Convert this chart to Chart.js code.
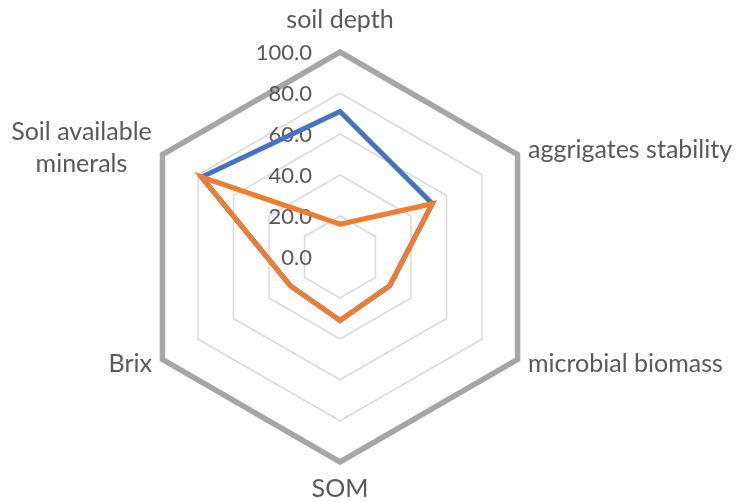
<!DOCTYPE html>
<html>
<head>
<meta charset="utf-8">
<script src="https://cdn.jsdelivr.net/npm/chart.js@4/dist/chart.umd.min.js"></script>
<style>
  html, body { margin: 0; padding: 0; background: #fff; }
  #wrap { width: 735px; height: 502px; }
</style>
</head>
<body>
<div id="wrap"><canvas id="radarChart"></canvas></div>
<script>
const categories = ['soil depth', 'aggrigates stability', 'microbial biomass', 'SOM', 'Brix', ['Soil available', 'minerals']];
const seriesBlue = [71, 52, 28, 31, 28, 78];
const seriesOrange = [16, 52, 28, 31, 28, 78];
const tickValues = [0, 20, 40, 60, 80, 100];

// where each category label sits relative to its outer vertex: dx, dy (baseline), align
const labelPlacement = [
  [0, -24, 'center'],
  [10.5, 3.5, 'left'],
  [10.5, 12.5, 'left'],
  [0, 35, 'center'],
  [-10.5, 12.5, 'right'],
  [-81, -14.5, 'center']
];

const textColor = '#595959';

// tick labels left of the vertical axis and the category labels, Excel style
const labelPlugin = {
  id: 'excelLabels',
  beforeDatasetsDraw(chart) {
    const scale = chart.scales.r;
    const ctx = chart.ctx;
    ctx.save();
    ctx.fillStyle = textColor;
    ctx.textBaseline = 'alphabetic';

    ctx.font = '22px Lato';
    ctx.textAlign = 'right';
    tickValues.forEach(v => {
      const d = scale.getDistanceFromCenterForValue(v);
      ctx.fillText(v.toFixed(1), scale.xCenter - 28, scale.yCenter - d + 7.5);
    });

    ctx.font = '25px Lato';
    categories.forEach((lbl, i) => {
      const p = scale.getPointPosition(i, scale.drawingArea);
      const [dx, dy, align] = labelPlacement[i];
      ctx.textAlign = align;
      const lines = Array.isArray(lbl) ? lbl : [lbl];
      lines.forEach((line, j) => {
        ctx.fillText(line, p.x + dx, p.y + dy + j * 32);
      });
    });
    ctx.restore();
  }
};

var ctx = document.getElementById('radarChart').getContext('2d');
var chart = new Chart(ctx, {
  type: 'radar',
  data: {
    labels: categories,
    datasets: [{
      label: 'Series1',
      data: seriesBlue,
      borderColor: '#4472C4',
      backgroundColor: 'transparent',
      borderWidth: 5,
      borderJoinStyle: 'miter',
      pointRadius: 0,
      fill: false,
      order: 1
    }, {
      label: 'Series2',
      data: seriesOrange,
      borderColor: '#ED7D31',
      backgroundColor: 'transparent',
      borderWidth: 5,
      borderJoinStyle: 'miter',
      pointRadius: 0,
      fill: false,
      order: 0
    }]
  },
  options: {
    responsive: true,
    maintainAspectRatio: false,
    animation: false,
    layout: { padding: { top: 52, bottom: 40, left: 130, right: 185 } },
    plugins: {
      legend: { display: false },
      tooltip: { enabled: false }
    },
    scales: {
      r: {
        min: 0,
        max: 100,
        ticks: { stepSize: 20, display: false },
        angleLines: { display: false },
        grid: {
          color: c => c.tick && c.tick.value === 100 ? '#a6a6a6' : '#d9d9d9',
          lineWidth: c => c.tick && c.tick.value === 100 ? 5.5 : 1.5
        },
        pointLabels: { display: false }
      }
    }
  },
  plugins: [labelPlugin]
});
</script>
</body>
</html>
